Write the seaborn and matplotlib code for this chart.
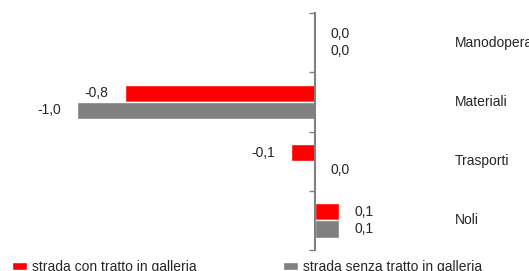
import pandas as pd
import matplotlib
matplotlib.use("Agg")
import matplotlib.pyplot as plt
import seaborn as sns

# Dati
voci = ["Manodopera", "Materiali", "Trasporti", "Noli"]
con_galleria = [0.0, -0.8, -0.1, 0.1]
senza_galleria = [0.0, -1.0, 0.0, 0.1]
serie = ["strada con tratto in galleria", "strada senza tratto in galleria"]

df = pd.DataFrame({
    "voce": voci * 2,
    "valore": con_galleria + senza_galleria,
    "serie": [serie[0]] * len(voci) + [serie[1]] * len(voci),
})

sns.set_style("white")
plt.rcParams["font.family"] = ["Liberation Sans", "DejaVu Sans"]

fig = plt.figure(figsize=(5.29, 2.71), dpi=100)
ax = fig.add_axes([0, 21 / 271, 1, 237 / 271])

sns.barplot(data=df, x="valore", y="voce", hue="serie", orient="h",
            palette=["#ff0000", "#808080"], width=0.58, ax=ax, legend=True,
            saturation=1)

ax.set_xlim(-315 / 238, (529 - 315) / 238)
ax.set_ylim(3.5, -0.5)

# etichette con virgola decimale
for cont in ax.containers:
    labels = [f"{v:.1f}".replace(".", ",") for v in cont.datavalues]
    ax.bar_label(cont, labels=labels, padding=11.5, fontsize=10)

# assi
for s in ["top", "right", "bottom"]:
    ax.spines[s].set_visible(False)
ax.spines["left"].set_position(("data", 0))
ax.spines["left"].set_color("#808080")
ax.spines["left"].set_linewidth(1.5)
ax.set_yticks([-0.5, 0.5, 1.5, 2.5, 3.5])
ax.set_yticklabels([])
ax.tick_params(axis="y", left=True, direction="out", length=4, width=1, color="#808080")
ax.set_xticks([])
ax.set_xlabel("")
ax.set_ylabel("")

# nomi delle voci a destra
for i, v in enumerate(voci):
    ax.text(455 / 529, i, v, transform=ax.get_yaxis_transform(),
            va="center", ha="left", fontsize=10)

handles, lbls = ax.get_legend_handles_labels()
ax.get_legend().remove()
fig.legend(handles, lbls, loc="lower left", bbox_to_anchor=(0.012, -0.03),
           ncol=2, frameon=False, fontsize=10, handlelength=1.1, handleheight=0.5,
           handletextpad=0.35, columnspacing=6.2, borderaxespad=0)

fig.savefig("out.png", dpi=100)
